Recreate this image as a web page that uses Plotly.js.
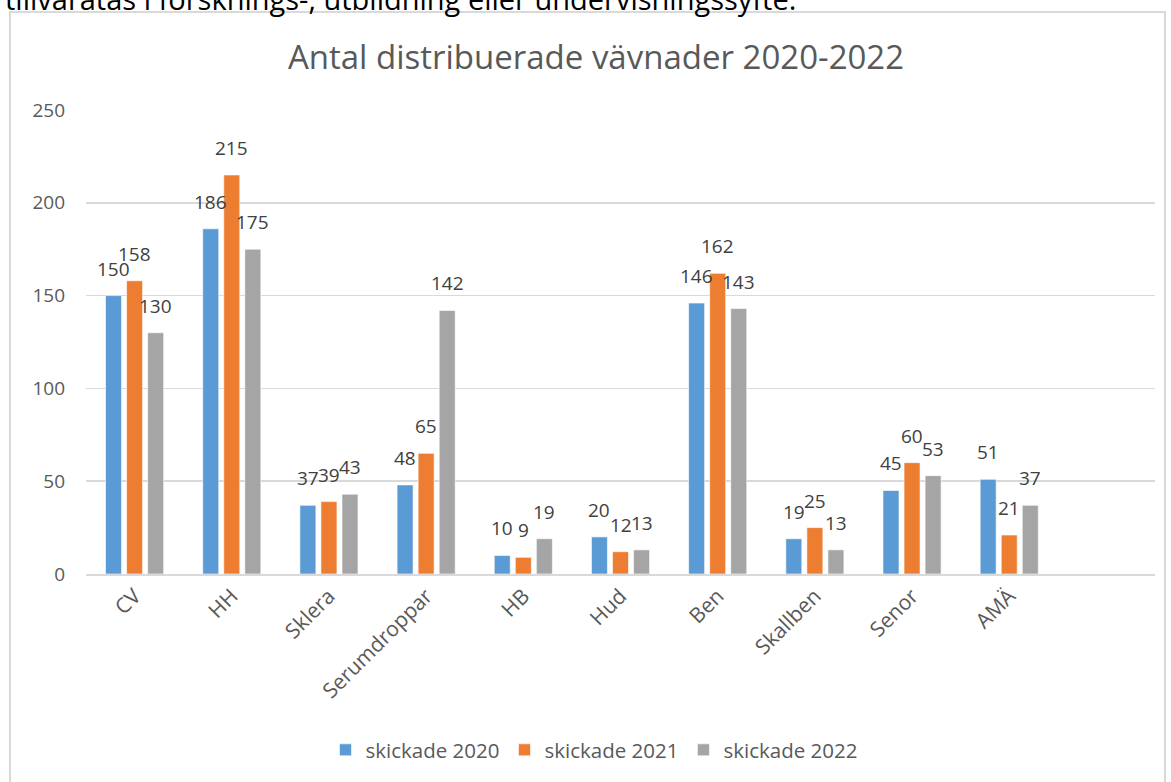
<!DOCTYPE html>
<html>
<head>
<meta charset="utf-8">
<script src="https://cdn.plot.ly/plotly-3.0.1.min.js"></script>
<style>
html,body{margin:0;padding:0;background:#fff;}
#chart{width:1171px;height:782px;}
</style>
</head>
<body>
<div id="chart"></div>
<script>
const categories = ["CV","HH","Sklera","Serumdroppar","HB","Hud","Ben","Skallben","Senor","AMÄ"," "];
const seriesNames = ["skickade 2020","skickade 2021","skickade 2022"];
const values2020 = [150,186,37,48,10,20,146,19,45,51,null];
const values2021 = [158,215,39,65,9,12,162,25,60,21,null];
const values2022 = [130,175,43,142,19,13,143,13,53,37,null];
const yTicks = [0,50,100,150,200,250];
const chartTitle = "Antal distribuerade vävnader 2020-2022";
const topText = "tillvaratas i forsknings-, utbildning eller undervisningssyfte.";

const colors = ["#5B9BD5","#ED7D31","#A5A5A5"];
const allValues = [values2020, values2021, values2022];
const FONT = "Open Sans, DejaVu Sans, sans-serif";

const W = 1171, H = 782;
const margin = {l:86, r:16, t:110, b:208};
const plotW = W - margin.l - margin.r;
const plotH = H - margin.t - margin.b;
const bargap = 0.35;
const slot = (plotW / categories.length) * (1 - bargap) / 3;

const traces = allValues.map((vals, i) => ({
  type: "bar",
  name: seriesNames[i],
  x: categories,
  y: vals,
  marker: {color: colors[i], line: {color: "rgba(255,255,255,0.6)", width: 1}},
  hoverinfo: "x+y+name"
}));

const annotations = [];
allValues.forEach((vals, i) => {
  vals.forEach((v, j) => {
    if (v === null) return;
    annotations.push({
      x: categories[j], y: v, xref: "x", yref: "y",
      text: String(v), showarrow: false,
      xshift: (i - 1) * slot, yshift: 12, yanchor: "bottom",
      font: {family: FONT, size: 19, color: "#404040"}
    });
  });
});

const px2x = p => (p - margin.l) / plotW;
const px2y = p => (H - margin.b - p) / plotH;

annotations.push({
  xref: "paper", yref: "paper", x: px2x(3), y: px2y(20), xanchor: "left", yanchor: "bottom",
  text: topText, showarrow: false,
  font: {family: FONT, size: 29, color: "#000000"}
});

const layout = {
  width: W, height: H,
  margin: margin,
  paper_bgcolor: "#ffffff",
  plot_bgcolor: "#ffffff",
  title: {
    text: chartTitle,
    font: {family: FONT, size: 33, color: "#595959"},
    x: px2x(596), xref: "paper", xanchor: "center",
    y: 1 - 57 / H, yref: "container", yanchor: "middle"
  },
  barmode: "group",
  bargap: bargap,
  bargroupgap: 0.24,
  xaxis: {
    type: "category",
    tickangle: -45,
    tickfont: {family: FONT, size: 21, color: "#595959"},
    showgrid: false,
    showline: true, linecolor: "#D9D9D9", linewidth: 1.5,
    ticks: "", ticklen: 0,
    fixedrange: true
  },
  yaxis: {
    range: [0, 250],
    tickvals: yTicks,
    tickfont: {family: FONT, size: 19, color: "#595959"},
    showgrid: true, gridcolor: "#D9D9D9", gridwidth: 1.5,
    zeroline: false, showline: false, ticks: "",
    ticklabelstandoff: 20,
    fixedrange: true
  },
  showlegend: true,
  legend: {
    orientation: "h",
    x: px2x(594), xanchor: "center",
    y: px2y(750), yanchor: "middle",
    font: {family: FONT, size: 20.5, color: "#595959"},
    itemwidth: 30,
    traceorder: "normal"
  },
  annotations: annotations,
  shapes: [{
    type: "rect", xref: "paper", yref: "paper",
    x0: px2x(10), x1: px2x(1165), y0: px2y(800), y1: px2y(12),
    line: {color: "#D9D9D9", width: 2}, fillcolor: "rgba(0,0,0,0)", layer: "below"
  }]
};

Plotly.newPlot("chart", traces, layout, {displayModeBar: false, staticPlot: true});
</script>
</body>
</html>
